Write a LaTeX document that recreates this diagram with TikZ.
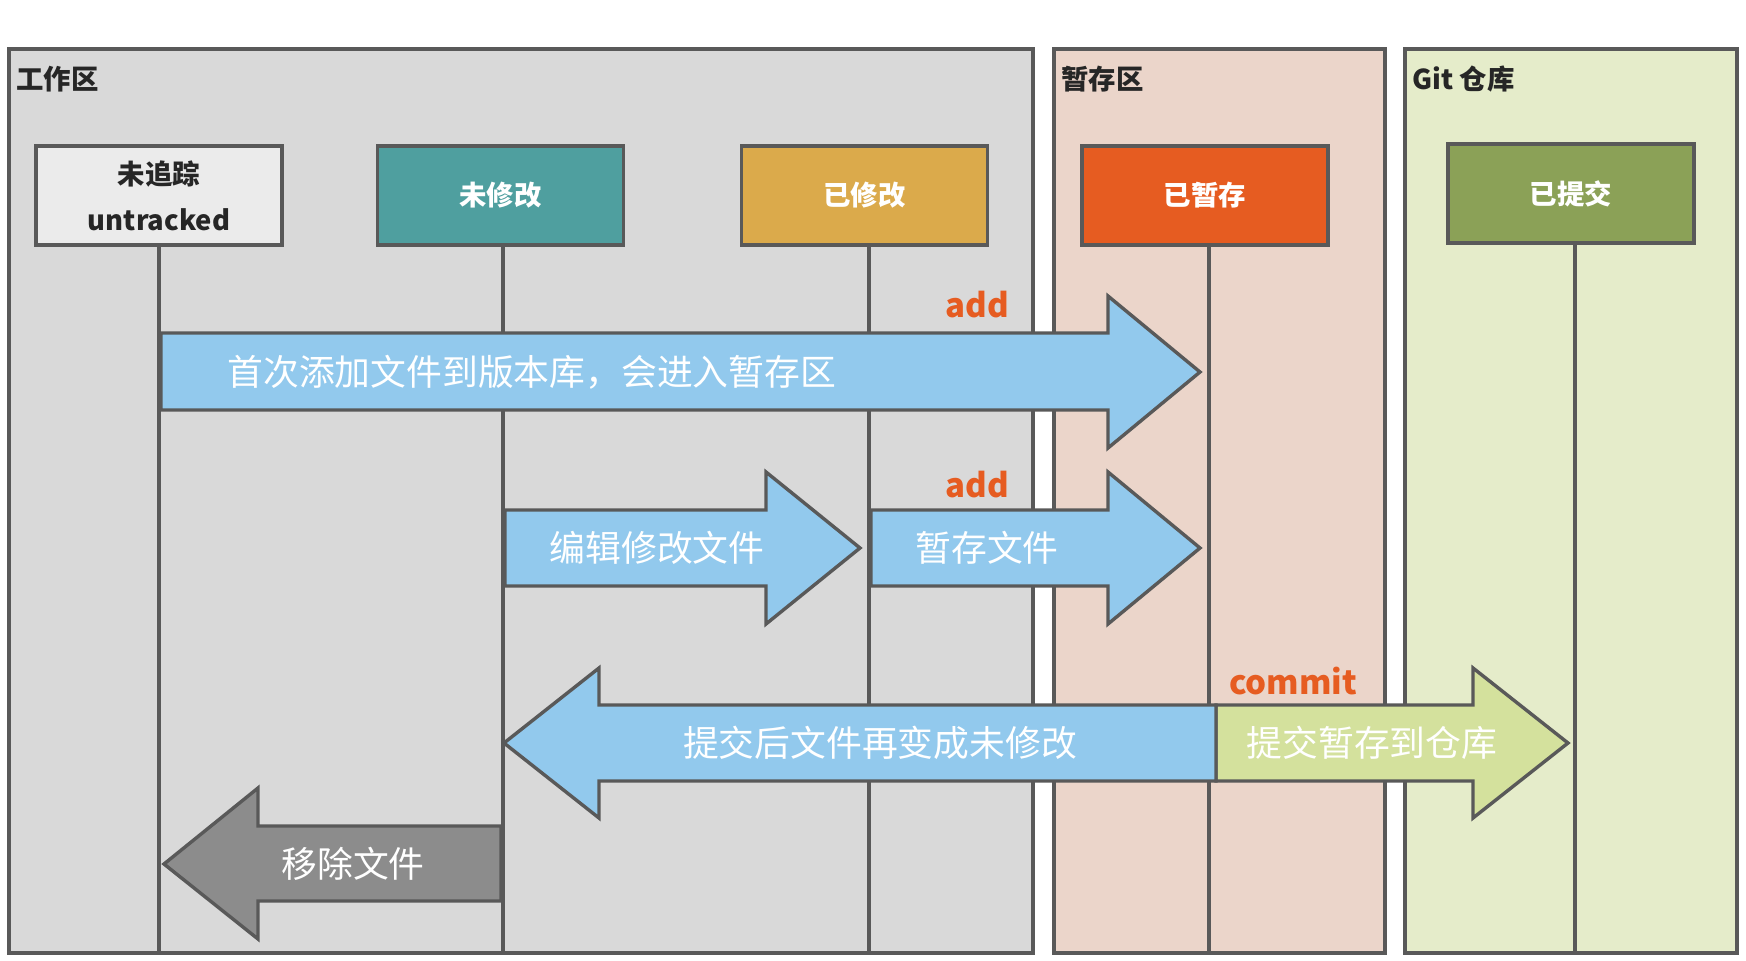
\documentclass[tikz,border=0pt]{standalone}
\usepackage{fontspec}
\setmainfont{Noto Sans CJK SC}
\definecolor{edge}{HTML}{595959}
\definecolor{workbg}{HTML}{D9D9D9}
\definecolor{stagebg}{HTML}{EBD5CA}
\definecolor{gitbg}{HTML}{E5ECCA}
\definecolor{untrk}{HTML}{EBEBEB}
\definecolor{teal}{HTML}{4F9F9F}
\definecolor{gold}{HTML}{DBAA4B}
\definecolor{orng}{HTML}{E65C21}
\definecolor{olive}{HTML}{8BA157}
\definecolor{lblue}{HTML}{92C9ED}
\definecolor{lgreen}{HTML}{D4E19D}
\definecolor{garrow}{HTML}{8C8C8C}
\definecolor{darktext}{HTML}{262626}
\tikzset{
  panel/.style={draw=edge, line width=1.7pt},
  statebox/.style={draw=edge, line width=1.7pt, minimum width=123pt, minimum height=49.5pt, font=\fontsize{13.7}{16}\selectfont\bfseries, text=white, align=center, inner sep=0pt},
  title/.style={anchor=west, font=\fontsize{13.7}{16}\selectfont\bfseries, text=darktext, inner sep=0pt},
  life/.style={draw=edge, line width=1.6pt},
  blockarrow/.style={draw=edge, line width=1.7pt, line join=miter},
  arrowtext/.style={text=white, font=\fontsize{17.9}{20}\selectfont, inner sep=0pt},
  cmd/.style={text=orng, font=\fontsize{16.5}{19}\selectfont\bfseries, inner sep=0pt}
}
\begin{document}
\begin{tikzpicture}[x=0.5pt, y=-0.5pt]
\useasboundingbox (0,0) rectangle (1746,960);
% panels
\draw[panel, fill=workbg] (9,49) rectangle (1033,953);
\draw[panel, fill=stagebg] (1054,49) rectangle (1385,953);
\draw[panel, fill=gitbg] (1405,49) rectangle (1737,953);
\node[title] (work) at (16,79) {工作区};
\node[title] (stage) at (1061,79) {暂存区};
\node[title] (repo) at (1412,79) {Git 仓库};
% state boxes
\node[statebox, fill=untrk, text=darktext] (untracked) at (159,195.5) {未追踪\\[7pt]untracked};
\node[statebox, fill=teal] (unmod) at (500.5,195.5) {未修改};
\node[statebox, fill=gold] (mod) at (864.5,195.5) {已修改};
\node[statebox, fill=orng] (staged) at (1205,195.5) {已暂存};
\node[statebox, fill=olive] (commit) at (1571,193.5) {已提交};
% lifelines
\coordinate (e1) at (159,955);
\coordinate (e2) at (503,953);
\coordinate (e3) at (869,953);
\coordinate (e4) at (1209,955);
\coordinate (e5) at (1575,953);
\draw[life] (untracked.south) -- (untracked.south |- e1);
\draw[life] (e2 |- unmod.south) -- (e2);
\draw[life] (e3 |- mod.south) -- (e3);
\draw[life] (e4 |- staged.south) -- (e4);
\draw[life] (e5 |- commit.south) -- (e5);
% arrow 1
\draw[blockarrow, fill=lblue] (161,333) -- (1108,333) -- (1108,296) -- (1200,372) -- (1108,448) -- (1108,410) -- (161,410) -- cycle;
\node[arrowtext, anchor=west] (t1) at (227,372) {首次添加文件到版本库，会进入暂存区};
\node[cmd] (add1) at (977,305) {add};
% arrow 2
\draw[blockarrow, fill=lblue] (505,510) -- (766,510) -- (766,472) -- (860,548) -- (766,624) -- (766,586) -- (505,586) -- cycle;
\node[arrowtext] (t2) at (657,548) {编辑修改文件};
% arrow 3
\draw[blockarrow, fill=lblue] (871,510) -- (1108,510) -- (1108,472) -- (1200,548) -- (1108,624) -- (1108,586) -- (871,586) -- cycle;
\node[arrowtext] (t3) at (987,548) {暂存文件};
\node[cmd] (add2) at (977,485) {add};
% arrow 4
\draw[blockarrow, fill=lgreen] (1216,705) -- (1473,705) -- (1473,668) -- (1568,743) -- (1473,818) -- (1473,781) -- (1216,781) -- cycle;
\draw[blockarrow, fill=lblue] (1216,705) -- (599,705) -- (599,668) -- (504,743) -- (599,818) -- (599,781) -- (1216,781) -- cycle;
\node[arrowtext] (t4) at (880,743) {提交后文件再变成未修改};
\node[arrowtext] (t5) at (1372,743) {提交暂存到仓库};
\node[cmd] (cm) at (1293,681) {commit};
% arrow 5
\draw[blockarrow, fill=garrow] (501,826) -- (258,826) -- (258,788) -- (164,864) -- (258,939) -- (258,901) -- (501,901) -- cycle;
\node[arrowtext] (t6) at (353,864) {移除文件};
\end{tikzpicture}
\end{document}
